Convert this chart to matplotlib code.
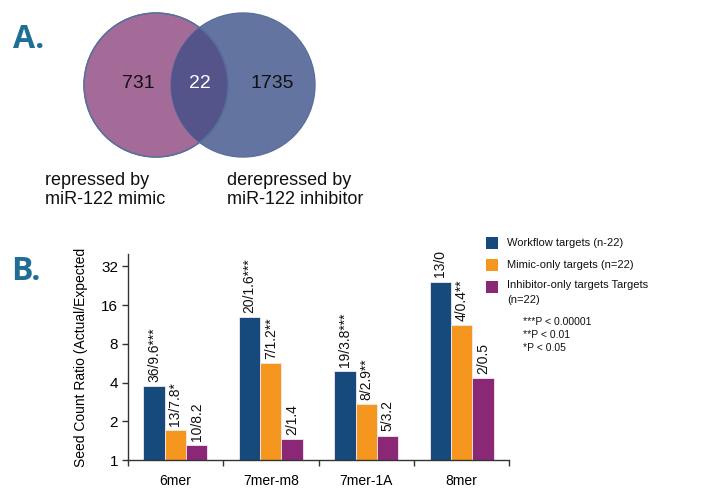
import matplotlib
matplotlib.use('Agg')
import matplotlib.pyplot as plt
from matplotlib.patches import Circle, Rectangle
import numpy as np

plt.rcParams['font.family'] = ['Liberation Sans', 'DejaVu Sans']

# venn data
venn_counts = [731, 22, 1735]
venn_labels = ['repressed by\nmiR-122 mimic', 'derepressed by\nmiR-122 inhibitor']

# bar data
categories = ['6mer', '7mer-m8', '7mer-1A', '8mer']
workflow = [3.78, 12.9, 4.95, 24.4]
mimic_only = [1.70, 5.7, 2.74, 11.2]
inhibitor_only = [1.30, 1.45, 1.55, 4.32]
workflow_txt = ['36/9.6***', '20/1.6***', '19/3.8***', '13/0']
mimic_txt = ['13/7.8*', '7/1.2**', '8/2.9**', '4/0.4**']
inhibitor_txt = ['10/8.2', '2/1.4', '5/3.2', '2/0.5']
series_names = ['Workflow targets (n-22)', 'Mimic-only targets (n=22)',
                'Inhibitor-only targets Targets\n(n=22)']
pvals = ['***P < 0.00001', '**P < 0.01', '*P < 0.05']

c_blue = '#174a7c'
c_orange = '#f5961f'
c_purple = '#8b2876'
c_panel = '#1f6f94'

W, H = 706, 488
fig = plt.figure(figsize=(W / 100, H / 100), dpi=100)

# background axes in pixel coords (venn + legend + labels)
bg = fig.add_axes([0, 0, 1, 1])
bg.set_xlim(0, W)
bg.set_ylim(H, 0)
bg.axis('off')

left_c = Circle((156, 85), 72, facecolor='#a56b98', edgecolor='#5b6f9c', lw=1)
right_c = Circle((243, 85), 72, facecolor='#6474a0', edgecolor='#5b6f9c', lw=1)
bg.add_patch(left_c)
bg.add_patch(right_c)
overlap = Circle((156, 85), 72, facecolor='#54548a', edgecolor='#3f5f8f', lw=1)
bg.add_patch(overlap)
overlap.set_clip_path(right_c)
bg.add_patch(Circle((156, 85), 72, facecolor='none', edgecolor='#5b6f9c', lw=1))

for x, n, col in zip([138, 200, 272], venn_counts, ['#111111', 'white', '#111111']):
    bg.text(x, 84, str(n), ha='center', va='center', fontsize=14, color=col)
for x, lab in zip([45, 227], venn_labels):
    bg.text(x, 190, lab, ha='left', va='center', fontsize=13, color='#111111',
            linespacing=1.2)

bg.text(13, 39, 'A.', ha='left', va='center', fontsize=23, fontweight='bold',
        color=c_panel, family=['Open Sans', 'DejaVu Sans'])
bg.text(11, 271, 'B.', ha='left', va='center', fontsize=23, fontweight='bold',
        color=c_panel, family=['Open Sans', 'DejaVu Sans'])

# legend, drawn by hand
for i, (name, col) in enumerate(zip(series_names, [c_blue, c_orange, c_purple])):
    y0 = 237 + i * 22
    bg.add_patch(Rectangle((486, y0), 12, 12, facecolor=col, edgecolor='none'))
    if '\n' in name:
        bg.text(507, y0 - 1, name, ha='left', va='top', fontsize=8,
                color='#111111', linespacing=1.6)
    else:
        bg.text(507, y0 + 6, name, ha='left', va='center', fontsize=8,
                color='#111111')
for i, p in enumerate(pvals):
    bg.text(523, 322 + i * 13, p, ha='left', va='center', fontsize=7.5,
            color='#111111')

# bar chart
ax = fig.add_axes([127.7 / W, 1 - 460 / H, (509.3 - 127.7) / W, (460 - 254) / H])
ax.set_facecolor('none')
x = np.arange(len(categories))
bw = 0.224
for off, vals, txt, col in [(-bw, workflow, workflow_txt, c_blue),
                            (0, mimic_only, mimic_txt, c_orange),
                            (bw, inhibitor_only, inhibitor_txt, c_purple)]:
    ax.bar(x + off, np.array(vals) - 1, bottom=1, width=bw, color=col,
           edgecolor='#f3e8f0', linewidth=0.6)
    for xi, v, t in zip(x + off, vals, txt):
        ax.annotate(t, (xi, v), xytext=(0, 3), textcoords='offset points',
                    rotation=90, ha='center', va='bottom', fontsize=10,
                    color='#111111')

ax.set_yscale('log', base=2)
ax.set_ylim(1, 40)
ax.set_xlim(-0.5, 3.5)
ax.set_yticks([1, 2, 4, 8, 16, 32])
ax.set_yticklabels(['1', '2', '4', '8', '16', '32'])
ax.yaxis.set_minor_locator(matplotlib.ticker.NullLocator())
ax.set_xticks([-0.5, 0.5, 1.5, 2.5, 3.5])
ax.set_xticklabels([])
ax.set_xticks(x, minor=True)
ax.set_xticklabels(categories, minor=True)
ax.tick_params(axis='x', which='minor', length=0, pad=10, labelsize=10)
ax.tick_params(axis='x', which='major', length=4, width=1, color='#333333')
ax.tick_params(axis='y', length=4, width=1, color='#333333', pad=3, labelsize=11)
for s in ['top', 'right']:
    ax.spines[s].set_visible(False)
for s in ['left', 'bottom']:
    ax.spines[s].set_color('#333333')
    ax.spines[s].set_linewidth(1)
ax.set_ylabel('Seed Count Ratio (Actual/Expected', fontsize=10)
ax.yaxis.set_label_coords((88 - 127.7) / (509.3 - 127.7), 0.5)

fig.savefig('out.png', dpi=100)
